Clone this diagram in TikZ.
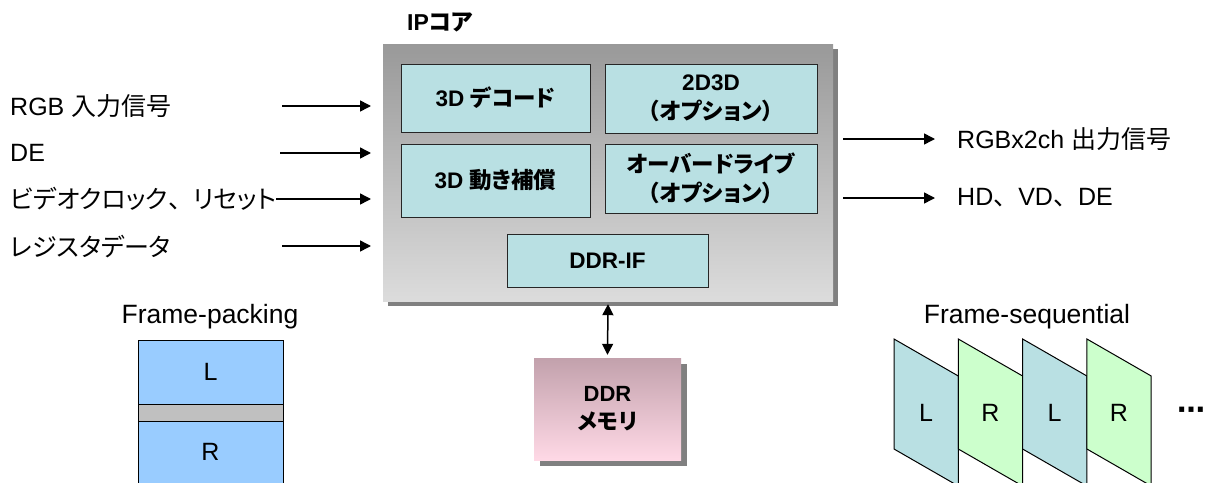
\documentclass[tikz,border=0pt]{standalone}
\usepackage{fontspec}
\setmainfont{Liberation Sans}
\newfontfamily\jp[RawFeature=+palt]{Noto Sans CJK JP}
\newfontfamily\jpk{Noto Sans CJK JP}
\newfontfamily\dv{DejaVu Sans}
\usetikzlibrary{arrows.meta}
\definecolor{boxcyan}{RGB}{185,224,227}
\definecolor{fpblue}{RGB}{153,204,255}
\definecolor{fpgray}{RGB}{192,192,192}
\definecolor{rgreen}{RGB}{204,255,204}
\definecolor{shadowgray}{RGB}{128,128,128}
\definecolor{iptop}{RGB}{153,153,153}
\definecolor{ipbot}{RGB}{220,220,220}
\definecolor{memtop}{RGB}{194,161,172}
\definecolor{membot}{RGB}{255,217,230}
\tikzset{
  inbox/.style={draw=black!85, line width=1pt, fill=boxcyan, align=center, inner sep=0pt,
    font=\fontsize{22.5}{28.5}\selectfont\bfseries},
  sig/.style={line width=1.5pt, -{Triangle[length=11pt,width=11pt]}},
  dsig/.style={line width=1.5pt, {Triangle[length=11pt,width=11pt]}-{Triangle[length=11pt,width=11pt]}},
  lbl/.style={anchor=west, inner sep=0pt, font=\fontsize{25}{28}\selectfont},
  frm/.style={draw=black, line width=1pt},
  lr/.style={inner sep=0pt, font=\fontsize{25}{28}\selectfont},
  ttl/.style={inner sep=0pt, font=\fontsize{26.5}{30}\selectfont},
}
\newcommand{\opt}{{\jpk\bfseries （}{\jp\bfseries オプション}{\jpk\bfseries ）}}
\begin{document}
\begin{tikzpicture}[x=1pt,y=-1pt]
\useasboundingbox (0,0) rectangle (1210,482);
\clip (0,0) rectangle (1210,482);
% IP core
\node[anchor=west, inner sep=0pt, font=\fontsize{23}{26}\selectfont\bfseries] (iplbl) at (407,22) {IP{\jp\bfseries コア}};
\fill[shadowgray] (388,49) rectangle (838,306);
\node[minimum width=450pt, minimum height=257pt, inner sep=0pt, top color=iptop, bottom color=ipbot] (ip) at (608,172.5) {};
\node[inbox, minimum width=189pt, minimum height=68pt] (dec) at (495.5,98) {3D {\jp\bfseries デコード}};
\node[inbox, minimum width=212pt, minimum height=69pt] (d2) at (711,98.5) {2D3D\\\opt};
\node[inbox, minimum width=189pt, minimum height=73pt] (mc) at (495.5,180.5) {3D {\jp\bfseries 動き補償}};
\node[inbox, minimum width=212pt, minimum height=69pt] (od) at (711,178.5) {{\jp\bfseries オーバードライブ}\\\opt};
\node[inbox, minimum width=201pt, minimum height=53pt] (ddrif) at (607.5,260.5) {DDR-IF};
% DDR memory
\fill[shadowgray] (540,364) rectangle (687,466);
\node[minimum width=147pt, minimum height=102pt, inner sep=0pt, top color=memtop, bottom color=membot,
  align=center, font=\fontsize{22}{28}\selectfont\bfseries] (mem) at (607.5,409) {DDR\\{\jp\bfseries メモリ}};
\path (mem.north) ++(0,-3) coordinate (mtop) (ip.south) ++(0,3) coordinate (ibot);
\draw[dsig] (ibot) -- (mtop);
% Inputs
\node[lbl] (in1) at (10,106) {RGB {\jpk 入力信号}};
\node[lbl] (in2) at (10,153) {DE};
\node[lbl] (in3) at (10,199) {{\jp ビデオクロック}{\jpk 、}{\jp リセット}};
\node[lbl] (in4) at (10,247) {{\jp レジスタデータ}};
\coordinate (a1s) at (282,106); \coordinate (a1e) at (371,106);
\coordinate (a2s) at (280,153); \coordinate (a2e) at (371,153);
\coordinate (a4s) at (282,246); \coordinate (a4e) at (371,246);
\coordinate (a3e) at (371,199);
\draw[sig] (a1s) -- (a1e);
\draw[sig] (a2s) -- (a2e);
\draw[sig] (in3.east |- a3e) -- (a3e);
\draw[sig] (a4s) -- (a4e);
% Outputs
\coordinate (o1s) at (843,139); \coordinate (o1e) at (935,139);
\coordinate (o2s) at (843,198); \coordinate (o2e) at (935,198);
\draw[sig] (o1s) -- (o1e);
\draw[sig] (o2s) -- (o2e);
\node[lbl] (out1) at (957,139) {RGBx2ch {\jpk 出力信号}};
\node[lbl] (out2) at (957,198) {HD{\jpk 、}VD{\jpk 、}DE};
% Frame-packing
\node[ttl] (fpl) at (210,317) {Frame-packing};
\draw[frm, fill=fpblue] (138,340) rectangle (283,404);
\draw[frm, fill=fpgray] (138,404) rectangle (283,421);
\draw[frm, fill=fpblue] (138,421) rectangle (283,500);
\node[lr] (fL) at (210.5,372) {L};
\node[lr] (fR) at (210.5,452) {R};
% Frame-sequential
\node[ttl] (fsl) at (1027,317) {Frame-sequential};
\foreach \x/\c/\t/\n in {894/boxcyan/L/s1, 958.3/rgreen/R/s2, 1022.6/boxcyan/L/s3, 1086.9/rgreen/R/s4}{
  \draw[frm, fill=\c] (\x,339) -- (\x+64.3,376) -- (\x+64.3,486) -- (\x,449) -- cycle;
  \node[lr] (\n) at (\x+32,413) {\t};
}
\node[inner sep=0pt, font=\fontsize{28}{30}\selectfont\dv\bfseries] (dots) at (1191,413) {⋯};
\end{tikzpicture}
\end{document}
